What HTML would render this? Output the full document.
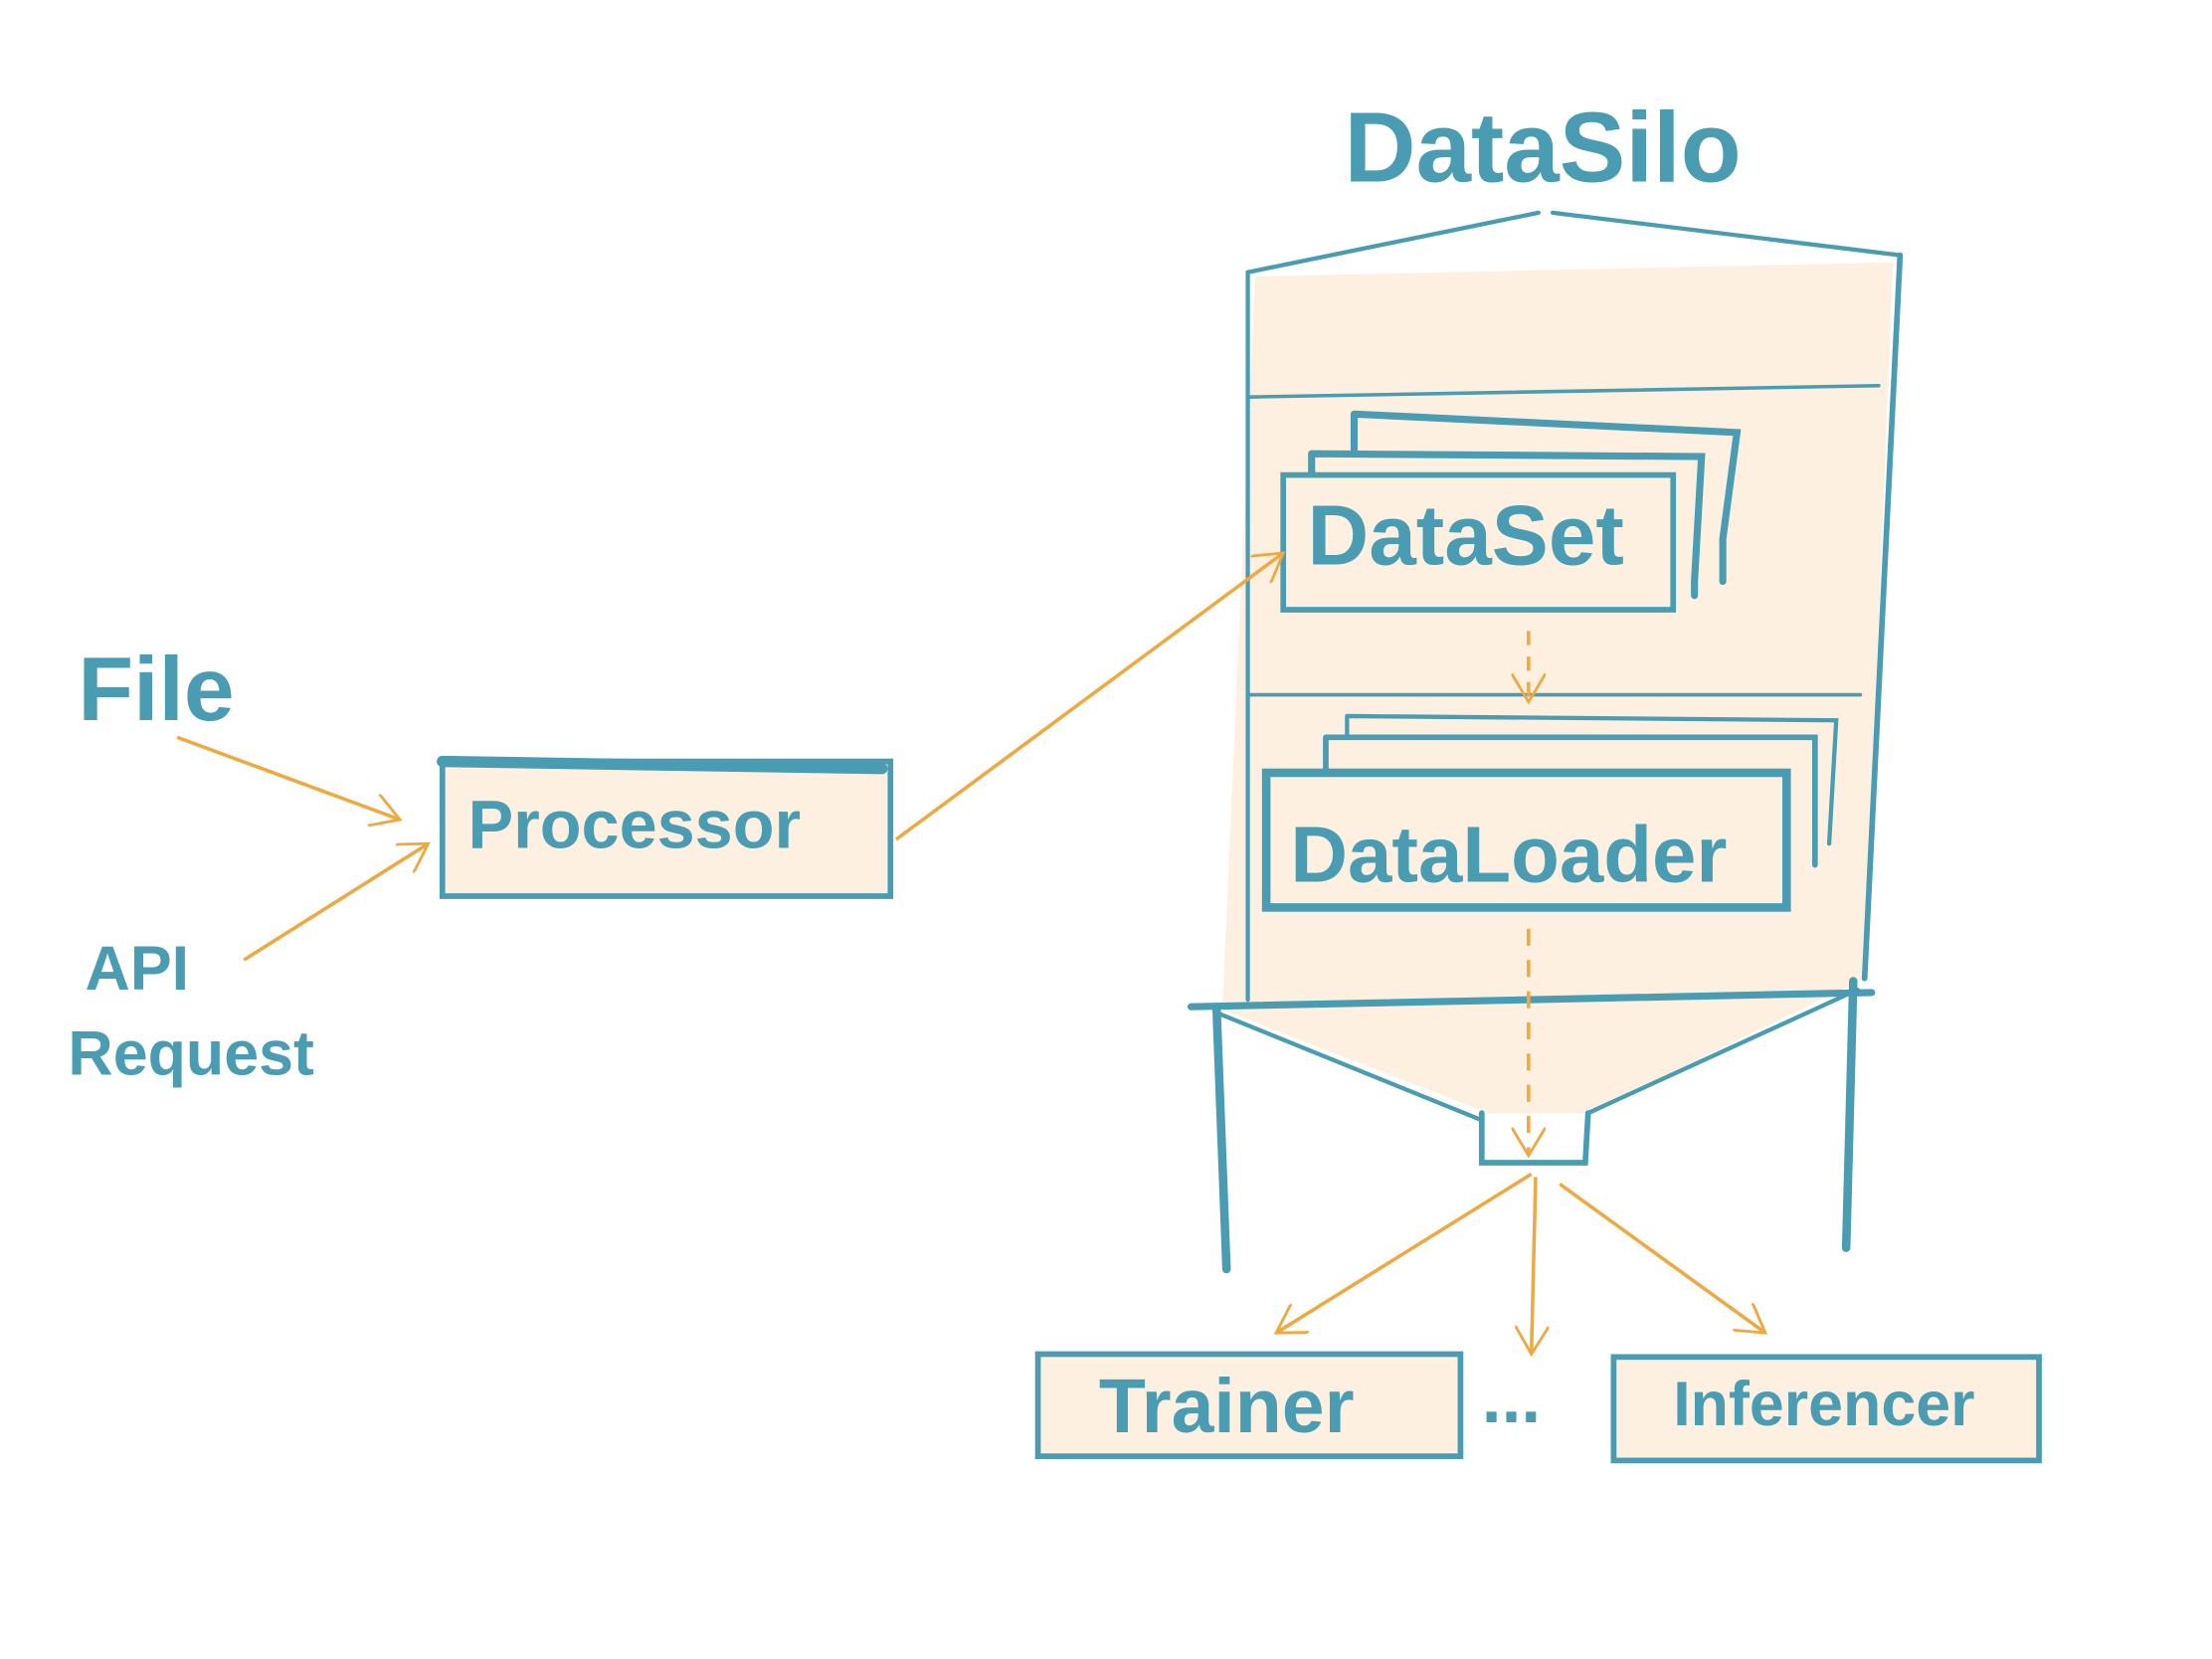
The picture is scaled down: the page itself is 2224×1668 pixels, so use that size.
<!DOCTYPE html>
<html><head><meta charset="utf-8"><style>
html,body{margin:0;padding:0;background:#fff;}
svg{display:block;}
text{font-family:"Liberation Sans",sans-serif;fill:#4a9cb3;font-weight:bold;}
</style></head><body>
<svg width="2224" height="1668" viewBox="0 0 1560 1170" preserveAspectRatio="none" xmlns="http://www.w3.org/2000/svg">
<defs>
<marker id="ah2" markerWidth="24" markerHeight="24" refX="20" refY="12" orient="auto" markerUnits="userSpaceOnUse">
<path d="M0,0 L20,12 L0,24" fill="none" stroke="#f0a840" stroke-width="2"/>
</marker>
</defs>
<rect width="1560" height="1170" fill="#fff"/>
<path d="M885,195 L1335,185 L1315,690 L1120,785 L1050,785 L862,712 Z" fill="#fdf0e1"/>
<g fill="none" stroke="#4a9cb3" stroke-linecap="round">
<path d="M880,192 L1085,150 M1095,150 L1340,180" stroke-width="3"/>
<path d="M880,192 L880,705" stroke-width="3"/>
<path d="M1340,180 L1315,690" stroke-width="4"/>
<path d="M880,280 L1325,272" stroke-width="2.5"/>
<path d="M880,490 L1312,490" stroke-width="2.5"/>
<path d="M840,710 L1320,700" stroke-width="5"/>
<path d="M858,712 L865,895" stroke-width="6"/>
<path d="M1307,692 L1302,880" stroke-width="6"/>
<path d="M860,715 L1045,790 M1310,698 L1120,785" stroke-width="3"/>
<path d="M1045,785 L1045,820 L1118,820 L1120,785" stroke-width="4"/>
<path d="M955,292 L1225,305 L1215,380 L1215,410 M955,292 L955,320" stroke-width="5"/>
<path d="M925,320 L1200,322 L1195,410 L1195,420 M925,320 L925,335" stroke-width="5"/>
<rect x="905" y="335" width="275" height="95" stroke-width="4" fill="#fdf0e1"/>
<path d="M950,505 L1295,508 L1290,595 M950,505 L950,520" stroke-width="3"/>
<path d="M935,520 L1280,520 L1280,610 M935,520 L935,545" stroke-width="4"/>
<rect x="893" y="545" width="367" height="95" stroke-width="6" fill="#fdf0e1"/>
<rect x="312" y="537" width="316" height="95" stroke-width="4" fill="#fdf0e1"/>
<path d="M312,537 L622,542" stroke-width="8"/>
<rect x="732" y="955" width="298" height="72" stroke-width="4" fill="#fdf0e1"/>
<rect x="1138" y="957" width="300" height="73" stroke-width="4" fill="#fdf0e1"/>
</g>
<g stroke="#f0a840" stroke-width="2.5" fill="none">
<line x1="1078" y1="445" x2="1078" y2="495" stroke-dasharray="10,8" marker-end="url(#ah2)"/>
<line x1="1078" y1="655" x2="1078" y2="815" stroke-dasharray="12,10" marker-end="url(#ah2)"/>
<line x1="1080" y1="828" x2="900" y2="940" marker-end="url(#ah2)"/>
<line x1="1083" y1="830" x2="1080" y2="955" marker-end="url(#ah2)"/>
<line x1="1100" y1="835" x2="1245" y2="940" marker-end="url(#ah2)"/>
<line x1="632" y1="592" x2="905" y2="390" marker-end="url(#ah2)"/>
<line x1="125" y1="520" x2="282" y2="578" marker-end="url(#ah2)"/>
<line x1="172" y1="677" x2="302" y2="595" marker-end="url(#ah2)"/>
</g>
<text x="948" y="128" font-size="70">DataSilo</text>
<text x="922" y="398" font-size="60">DataSet</text>
<text x="910" y="622" font-size="56">DataLoader</text>
<text x="330" y="598" font-size="48">Processor</text>
<text x="775" y="1010" font-size="54">Trainer</text>
<text x="1180" y="1005" font-size="44">Inferencer</text>
<text x="1045" y="1003" font-size="50">...</text>
<text x="55" y="508" font-size="64">File</text>
<text x="60" y="698" font-size="44">API</text>
<text x="48" y="758" font-size="44">Request</text>
</svg>
</body></html>
